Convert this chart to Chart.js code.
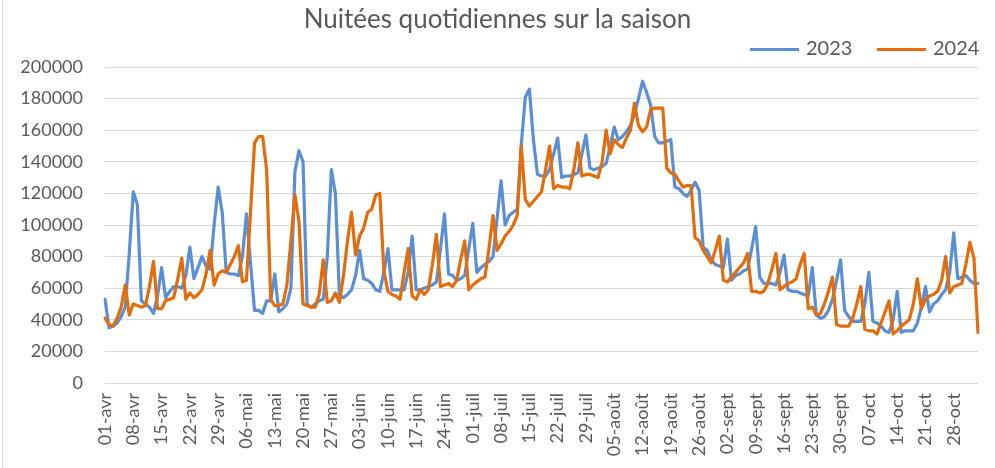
<!DOCTYPE html>
<html lang="fr">
<head>
<meta charset="utf-8">
<title>Nuitées quotidiennes sur la saison</title>
<script src="https://cdn.jsdelivr.net/npm/chart.js@4.4.1/dist/chart.umd.min.js"></script>
<style>
  body { margin: 0; background: #fff; }
  #cadre { position: relative; width: 995px; height: 468px; font-family: Lato, sans-serif; color: #595959; }
  #cadre::before { content: ""; position: absolute; left: 2px; top: 0; width: 1px; height: 468px; background: #d9d9d9; }
  #titre { position: absolute; left: 0; top: 1px; width: 995px; text-align: center; font-size: 26px; line-height: 34px; }
  .legende { position: absolute; top: 36px; font-size: 20px; line-height: 22px; white-space: nowrap; }
  .trait { display: inline-block; width: 49px; height: 3px; vertical-align: middle; margin-right: 7px; }
  canvas { position: absolute; left: 0; top: 0; }
</style>
</head>
<body>
<div id="cadre">
  <canvas id="grafique" width="995" height="468"></canvas>
  <div id="titre">Nuitées quotidiennes sur la saison</div>
  <div class="legende" style="left:750px"><span class="trait" style="background:#5b8fd5"></span>2023</div>
  <div class="legende" style="left:877px"><span class="trait" style="background:#e46c0a"></span>2024</div>
</div>
<script>
// jours de la saison : 01-avr -> 03-nov
const moisNoms = ["avr", "mai", "juin", "juil", "août", "sept", "oct", "nov"];
const moisJours = [30, 31, 30, 31, 31, 30, 31, 3];

const couleur2023 = "#5b8fd5";
const couleur2024 = "#e46c0a";

const nuitees2023 = [
  53000, 35000, 36000, 38000, 42000, 48000, 82000, 121000, 113000, 52000,
  50000, 48000, 44000, 55000, 73000, 54000, 58000, 61000, 61000, 60000,
  68000, 86000, 66000, 73000, 80000, 74000, 72000, 100000, 124000, 108000,
  70000, 69000, 69000, 68000, 80000, 107000, 76000, 46000, 46000, 44000,
  52000, 52000, 69000, 45000, 47000, 50000, 60000, 134000, 147000, 140000,
  50000, 48000, 50000, 52000, 53000, 80000, 135000, 120000, 56000, 54000,
  56000, 59000, 68000, 84000, 66000, 65000, 63000, 59000, 58000, 70000,
  85000, 59000, 59000, 59000, 59000, 70000, 93000, 59000, 59000, 60000,
  61000, 62000, 64000, 85000, 107000, 69000, 68000, 65000, 66000, 68000,
  85000, 101000, 70000, 73000, 75000, 77000, 80000, 104000, 128000, 100000,
  106000, 108000, 110000, 151000, 181000, 186000, 154000, 132000, 131000, 131000,
  135000, 145000, 155000, 130000, 131000, 131000, 132000, 133000, 145000, 157000,
  136000, 135000, 136000, 137000, 139000, 150000, 162000, 154000, 156000, 159000,
  163000, 170000, 180000, 191000, 184000, 176000, 156000, 152000, 152000, 153000,
  154000, 124000, 123000, 120000, 118000, 122000, 127000, 122000, 86000, 84000,
  78000, 75000, 74000, 73000, 91000, 65000, 68000, 69000, 71000, 72000,
  85000, 99000, 67000, 63000, 63000, 63000, 62000, 70000, 81000, 59000,
  58000, 58000, 57000, 56000, 55000, 73000, 43000, 41000, 42000, 46000,
  53000, 65000, 78000, 46000, 42000, 39000, 39000, 39000, 50000, 70000,
  39000, 38000, 36000, 33000, 32000, 40000, 58000, 32000, 33000, 33000,
  33000, 38000, 48000, 61000, 45000, 50000, 52000, 56000, 59000, 70000,
  95000, 66000, 67000, 68000, 65000, 63000, 63000
];

const nuitees2024 = [
  41000, 37000, 36000, 41000, 48000, 62000, 43000, 50000, 49000, 48000,
  49000, 61000, 77000, 47000, 47000, 52000, 53000, 54000, 66000, 79000,
  53000, 57000, 54000, 56000, 59000, 69000, 84000, 62000, 69000, 71000,
  70000, 75000, 80000, 87000, 64000, 65000, 108000, 152000, 156000, 156000,
  135000, 53000, 49000, 49000, 50000, 62000, 90000, 119000, 102000, 50000,
  49000, 48000, 48000, 56000, 78000, 51000, 52000, 57000, 51000, 68000,
  90000, 108000, 81000, 93000, 98000, 108000, 110000, 119000, 120000, 71000,
  58000, 56000, 55000, 53000, 70000, 85000, 55000, 53000, 59000, 56000,
  59000, 75000, 94000, 61000, 62000, 63000, 61000, 65000, 78000, 90000,
  59000, 62000, 64000, 66000, 67000, 85000, 106000, 84000, 88000, 93000,
  96000, 100000, 106000, 150000, 116000, 112000, 115000, 118000, 121000, 135000,
  150000, 123000, 125000, 124000, 124000, 123000, 135000, 152000, 131000, 132000,
  132000, 131000, 130000, 140000, 160000, 145000, 154000, 151000, 149000, 155000,
  160000, 177000, 163000, 159000, 162000, 173000, 174000, 174000, 174000, 136000,
  133000, 132000, 128000, 124000, 125000, 125000, 92000, 90000, 84000, 80000,
  76000, 84000, 93000, 65000, 64000, 67000, 70000, 73000, 76000, 82000,
  58000, 58000, 57000, 58000, 63000, 72000, 82000, 59000, 61000, 63000,
  64000, 66000, 75000, 82000, 47000, 48000, 43000, 44000, 50000, 58000,
  67000, 37000, 36000, 36000, 36000, 41000, 50000, 61000, 34000, 33000,
  33000, 31000, 38000, 45000, 52000, 31000, 33000, 36000, 38000, 40000,
  50000, 66000, 47000, 53000, 55000, 56000, 58000, 65000, 80000, 57000,
  61000, 62000, 63000, 75000, 89000, 79000, 32000
];

const jours = [];
moisNoms.forEach((m, k) => {
  for (let d = 1; d <= moisJours[k]; d++) {
    jours.push((d < 10 ? "0" + d : "" + d) + "-" + m);
  }
});

const police = { family: "Lato", size: 18 };

const ctx = document.getElementById("grafique").getContext("2d");
new Chart(ctx, {
  type: "line",
  data: {
    labels: jours,
    datasets: [
      { label: "2023", data: nuitees2023, borderColor: couleur2023, borderWidth: 3.2,
        pointRadius: 0, tension: 0, borderJoinStyle: "round", borderCapStyle: "round", order: 1 },
      { label: "2024", data: nuitees2024, borderColor: couleur2024, borderWidth: 3.2,
        pointRadius: 0, tension: 0, borderJoinStyle: "round", borderCapStyle: "round", order: 0 }
    ]
  },
  options: {
    responsive: false,
    animation: false,
    layout: { padding: { top: 67, right: 17, bottom: 0, left: 0 } },
    plugins: {
      legend: { display: false },
      title: { display: false },
      tooltip: { enabled: false }
    },
    scales: {
      x: {
        grid: { display: false, drawTicks: false },
        border: { display: false },
        ticks: {
          autoSkip: false, minRotation: 90, maxRotation: 90, padding: 10,
          color: "#595959", font: police,
          callback: function (v, i) { return i % 7 === 0 ? this.getLabelForValue(v) : null; }
        },
        afterFit: s => { s.height = 85; }
      },
      y: {
        min: 0, max: 200000,
        grid: { color: "#d9d9d9", lineWidth: 1, drawTicks: false },
        border: { display: false },
        ticks: { stepSize: 20000, padding: 22, color: "#595959", font: police, callback: v => String(v) },
        afterFit: s => { s.width = 105; }
      }
    }
  }
});
</script>
</body>
</html>
